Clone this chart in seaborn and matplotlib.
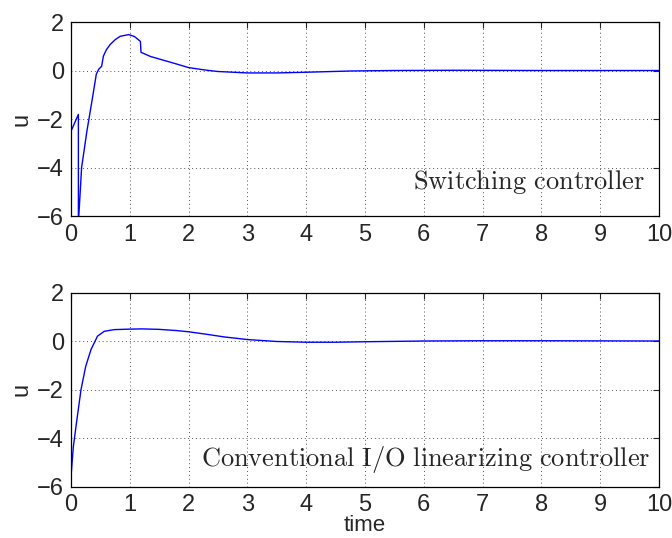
import numpy as np
import pandas as pd
import matplotlib
matplotlib.use('Agg')
import matplotlib.pyplot as plt
import seaborn as sns

# Control input u(t)
t_switch = [0, 0.125, 0.125, 0.18, 0.27, 0.355, 0.43, 0.47, 0.52, 0.55, 0.6, 0.665,
            0.75, 0.835, 0.98, 1.08, 1.18, 1.19, 1.35, 1.52, 1.75, 2.0, 2.25, 2.49,
            3.0, 3.5, 4.02, 4.76, 5.5, 6.5, 8, 10]
u_switch = [-2.5, -1.81, -6.3, -4.0, -2.5, -1.27, -0.15, 0.05, 0.17, 0.59, 0.85, 1.07,
            1.27, 1.41, 1.48, 1.4, 1.2, 0.75, 0.58, 0.46, 0.3, 0.12, 0.03, -0.04,
            -0.1, -0.1, -0.07, -0.02, 0.0, 0.01, 0.0, 0.0]

t_conv = [0, 0.04, 0.1, 0.17, 0.25, 0.34, 0.45, 0.565, 0.735, 1.0, 1.2, 1.5,
          1.8, 2.0, 2.3, 2.6, 3.0, 3.5, 4.0, 4.5, 5, 6, 7, 8, 10]
u_conv = [-5.57, -4.34, -3.24, -2.0, -1.04, -0.35, 0.2, 0.4, 0.47, 0.49, 0.5, 0.48,
          0.43, 0.38, 0.28, 0.17, 0.06, -0.02, -0.05, -0.05, -0.03, 0.0, 0.01, 0.01, 0.0]

labels = ['Switching controller', 'Conventional I/O linearizing controller']
xticks = np.arange(0, 11, 1)
yticks = [-6, -4, -2, 0, 2]

sns.set_style('white')
plt.rcParams['font.family'] = ['Liberation Sans', 'DejaVu Sans']
plt.rcParams['mathtext.fontset'] = 'cm'

fig = plt.figure(figsize=(6.72, 5.38), dpi=100)
ax1 = fig.add_axes([0.1057, 0.5985, 0.875, 0.3606])
ax2 = fig.add_axes([0.1057, 0.0957, 0.875, 0.3606])

data = [(t_switch, u_switch, ax1, 0.976, 0.175),
        (t_conv, u_conv, ax2, 0.985, 0.137)]

for (t, u, ax, tx, ty), lab in zip(data, labels):
    df = pd.DataFrame({'time': t, 'u': u})
    sns.lineplot(data=df, x='time', y='u', ax=ax, sort=False, estimator=None,
                 color='blue', linewidth=1.0)
    ax.set_xlim(0, 10)
    ax.set_ylim(-6, 2)
    ax.set_xticks(xticks)
    ax.set_yticks(yticks)
    ax.set_yticklabels(['\u22126', '\u22124', '\u22122', '0', '2'])
    ax.grid(True, linestyle=(0, (1, 3)), color='#555555', linewidth=0.7)
    ax.tick_params(direction='in', top=True, right=True, length=4,
                   labelsize=17)
    ax.tick_params(axis='x', pad=5.5)
    ax.tick_params(axis='y', pad=5)
    for s in ax.spines.values():
        s.set_color('black')
        s.set_linewidth(0.9)
    ax.set_ylabel('u', fontsize=17, labelpad=3)
    ax.set_xlabel('')
    txt = r'$\mathrm{' + lab.replace(' ', r'\ ') + '}$'
    ax.text(tx, ty, txt, transform=ax.transAxes, ha='right', va='center',
            fontsize=19)

ax2.set_xlabel('time', fontsize=16, labelpad=-0.5)

fig.savefig('out.png', dpi=100)
